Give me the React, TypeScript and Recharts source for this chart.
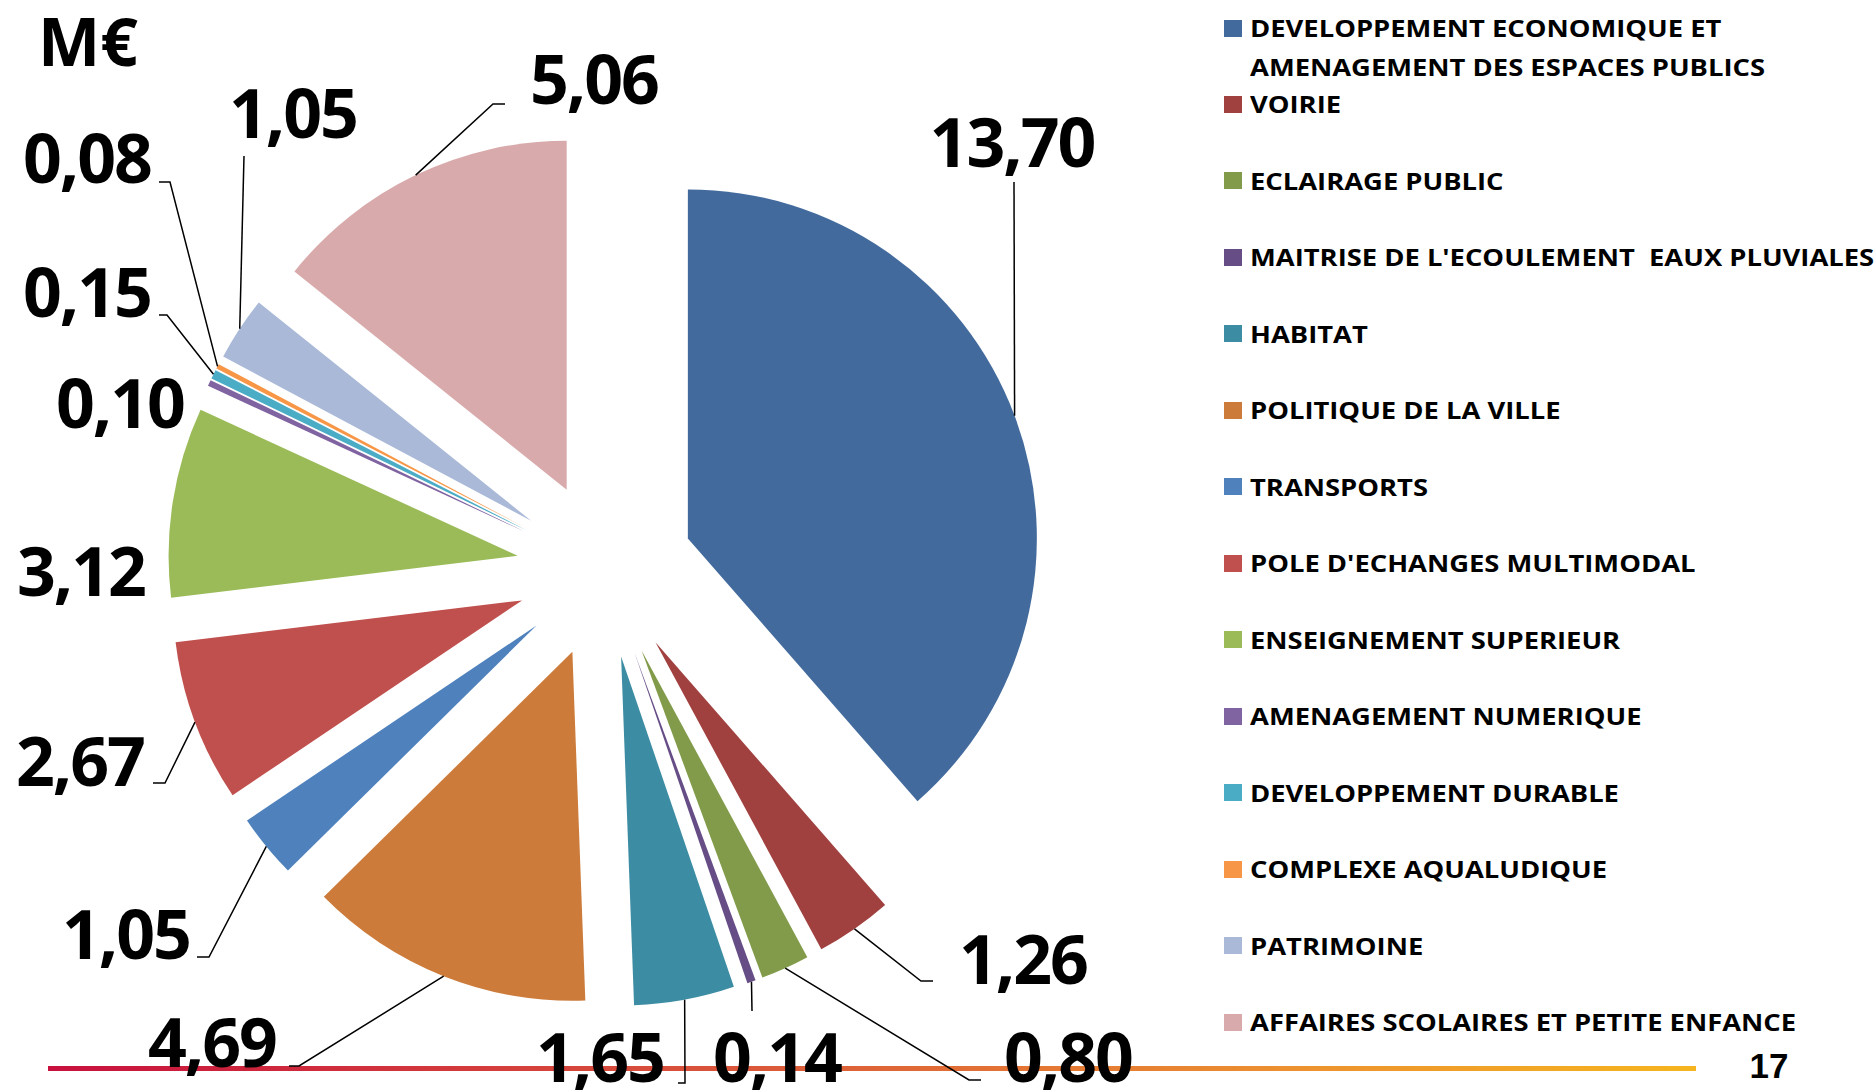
import { Cell, Pie, PieChart } from "recharts";

const categories = [
  "DEVELOPPEMENT ECONOMIQUE ET\nAMENAGEMENT DES ESPACES PUBLICS",
  "VOIRIE",
  "ECLAIRAGE PUBLIC",
  "MAITRISE DE L'ECOULEMENT  EAUX PLUVIALES",
  "HABITAT",
  "POLITIQUE DE LA VILLE",
  "TRANSPORTS",
  "POLE D'ECHANGES MULTIMODAL",
  "ENSEIGNEMENT SUPERIEUR",
  "AMENAGEMENT NUMERIQUE",
  "DEVELOPPEMENT DURABLE",
  "COMPLEXE AQUALUDIQUE",
  "PATRIMOINE",
  "AFFAIRES SCOLAIRES ET PETITE ENFANCE",
];

const values = [13.7, 1.26, 0.8, 0.14, 1.65, 4.69, 1.05, 2.67, 3.12, 0.1, 0.15, 0.08, 1.05, 5.06];

const colors = [
  "#426a9c", "#a0403f", "#819b4a", "#664d86", "#3c8ca3", "#cc7b3a", "#4f81bd",
  "#c0504d", "#9bbb59", "#8064a2", "#4bacc6", "#f79646", "#aab9d7", "#d9aaab",
];

const data = categories.map((name, i) => ({ name, value: values[i] }));

// layout (pixels)
const CX = 605;
const CY = 569.5;
const EXPLODE = 88.5;
const RADIUS = 349;
const RAD = Math.PI / 180;
const FONT = "'Open Sans', 'Noto Sans', sans-serif";

// label text centre, then leader-line points after the arc point
const labelLayout: { t: [number, number]; pts: [number, number][] }[] = [
  { t: [1012, 143], pts: [[1014, 182]] },
  { t: [1023, 960], pts: [[921, 981], [933, 981]] },
  { t: [1068, 1058], pts: [[969, 1080], [981, 1080]] },
  { t: [777, 1058], pts: [[752, 1011]] },
  { t: [600, 1058], pts: [[685, 1083], [678, 1083]] },
  { t: [212, 1043], pts: [[299, 1066], [289, 1066]] },
  { t: [126, 935], pts: [[209, 957], [197, 957]] },
  { t: [80, 762], pts: [[165, 783], [153, 783]] },
  { t: [81, 572], pts: [] },
  { t: [120, 404], pts: [] },
  { t: [87, 293], pts: [[167, 315], [159, 315]] },
  { t: [87, 159], pts: [[170, 182], [159, 182]] },
  { t: [293, 114], pts: [[244, 156]] },
  { t: [594, 80], pts: [[493, 104], [505, 104]] },
];

const total = values.reduce((a, b) => a + b, 0);
const offsets = values.map((v, i) => {
  const before = values.slice(0, i).reduce((a, b) => a + b, 0);
  const mid = ((before + v / 2) / total) * 360 * RAD;
  return { x: CX + EXPLODE * Math.sin(mid), y: CY - EXPLODE * Math.cos(mid) };
});

const fmt = (v: number) => v.toFixed(2).replace(".", ",");

function renderLabel(p: any, slice: number) {
  if (p.index !== slice) return null;
  const ax = p.cx + p.outerRadius * Math.cos(-p.midAngle * RAD);
  const ay = p.cy + p.outerRadius * Math.sin(-p.midAngle * RAD);
  const lay = labelLayout[slice];
  const d = lay.pts.length
    ? `M${ax},${ay}` + lay.pts.map(([x, y]) => `L${x},${y}`).join("")
    : "";
  return (
    <g key={`lbl-${slice}`}>
      {d && <path d={d} stroke="#000" strokeWidth={1.5} fill="none" />}
      <text
        x={lay.t[0]}
        y={lay.t[1] + 24}
        textAnchor="middle"
        fontFamily={FONT}
        fontWeight={700}
        fontSize={68}
        letterSpacing={-2}
        fill="#000"
      >
        {fmt(values[slice])}
      </text>
    </g>
  );
}

function legendY(k: number) {
  return k === 0 ? 28 : 104 + (k - 1) * 76.5;
}

export default function App() {
  return (
    <div
      style={{
        position: "absolute",
        left: 0,
        top: 0,
        width: 1876,
        height: 1090,
        background: "#fff",
        overflow: "hidden",
        fontFamily: FONT,
      }}
    >
      <div
        style={{
          position: "absolute",
          left: 48,
          top: 1066,
          width: 1648,
          height: 5,
          background: "linear-gradient(to right, #c8103e, #d9533a 40%, #ec9030 75%, #f6b51e)",
        }}
      />

      <div style={{ position: "absolute", left: 0, top: 0 }}>
        <PieChart width={1200} height={1090} margin={{ top: 0, right: 0, bottom: 0, left: 0 }}>
          {values.map((_, slice) => (
            <Pie
              key={slice}
              data={data}
              dataKey="value"
              nameKey="name"
              cx={offsets[slice].x}
              cy={offsets[slice].y}
              outerRadius={RADIUS}
              startAngle={90}
              endAngle={-270}
              stroke="none"
              labelLine={false}
              label={(p: any) => renderLabel(p, slice)}
              isAnimationActive={false}
            >
              {data.map((_, j) => (
                <Cell key={j} fill={j === slice ? colors[j] : "transparent"} stroke="none" />
              ))}
            </Pie>
          ))}
        </PieChart>
      </div>

      <div
        style={{
          position: "absolute",
          left: 38,
          top: 5,
          fontSize: 66,
          fontWeight: 700,
          lineHeight: "70px",
          color: "#000",
        }}
      >
        M€
      </div>

      {categories.map((c, k) => (
        <div key={c} style={{ position: "absolute", left: 1224, top: legendY(k) - 19 }}>
          <div
            style={{
              position: "absolute",
              left: 0,
              top: 10.5,
              width: 18,
              height: 17,
              background: colors[k],
            }}
          />
          <div
            style={{
              position: "absolute",
              left: 26,
              top: 0,
              whiteSpace: "pre",
              fontSize: 24,
              fontWeight: 700,
              lineHeight: "38.5px",
              color: "#000",
              transform: "scaleX(1.14)",
              transformOrigin: "left center",
            }}
          >
            {c}
          </div>
        </div>
      ))}

      <div
        style={{
          position: "absolute",
          left: 1729,
          top: 1044,
          width: 80,
          textAlign: "center",
          fontFamily: "'Liberation Sans', Arial, sans-serif",
          fontSize: 35,
          fontWeight: 700,
          lineHeight: "44px",
          color: "#000",
        }}
      >
        17
      </div>
    </div>
  );
}
